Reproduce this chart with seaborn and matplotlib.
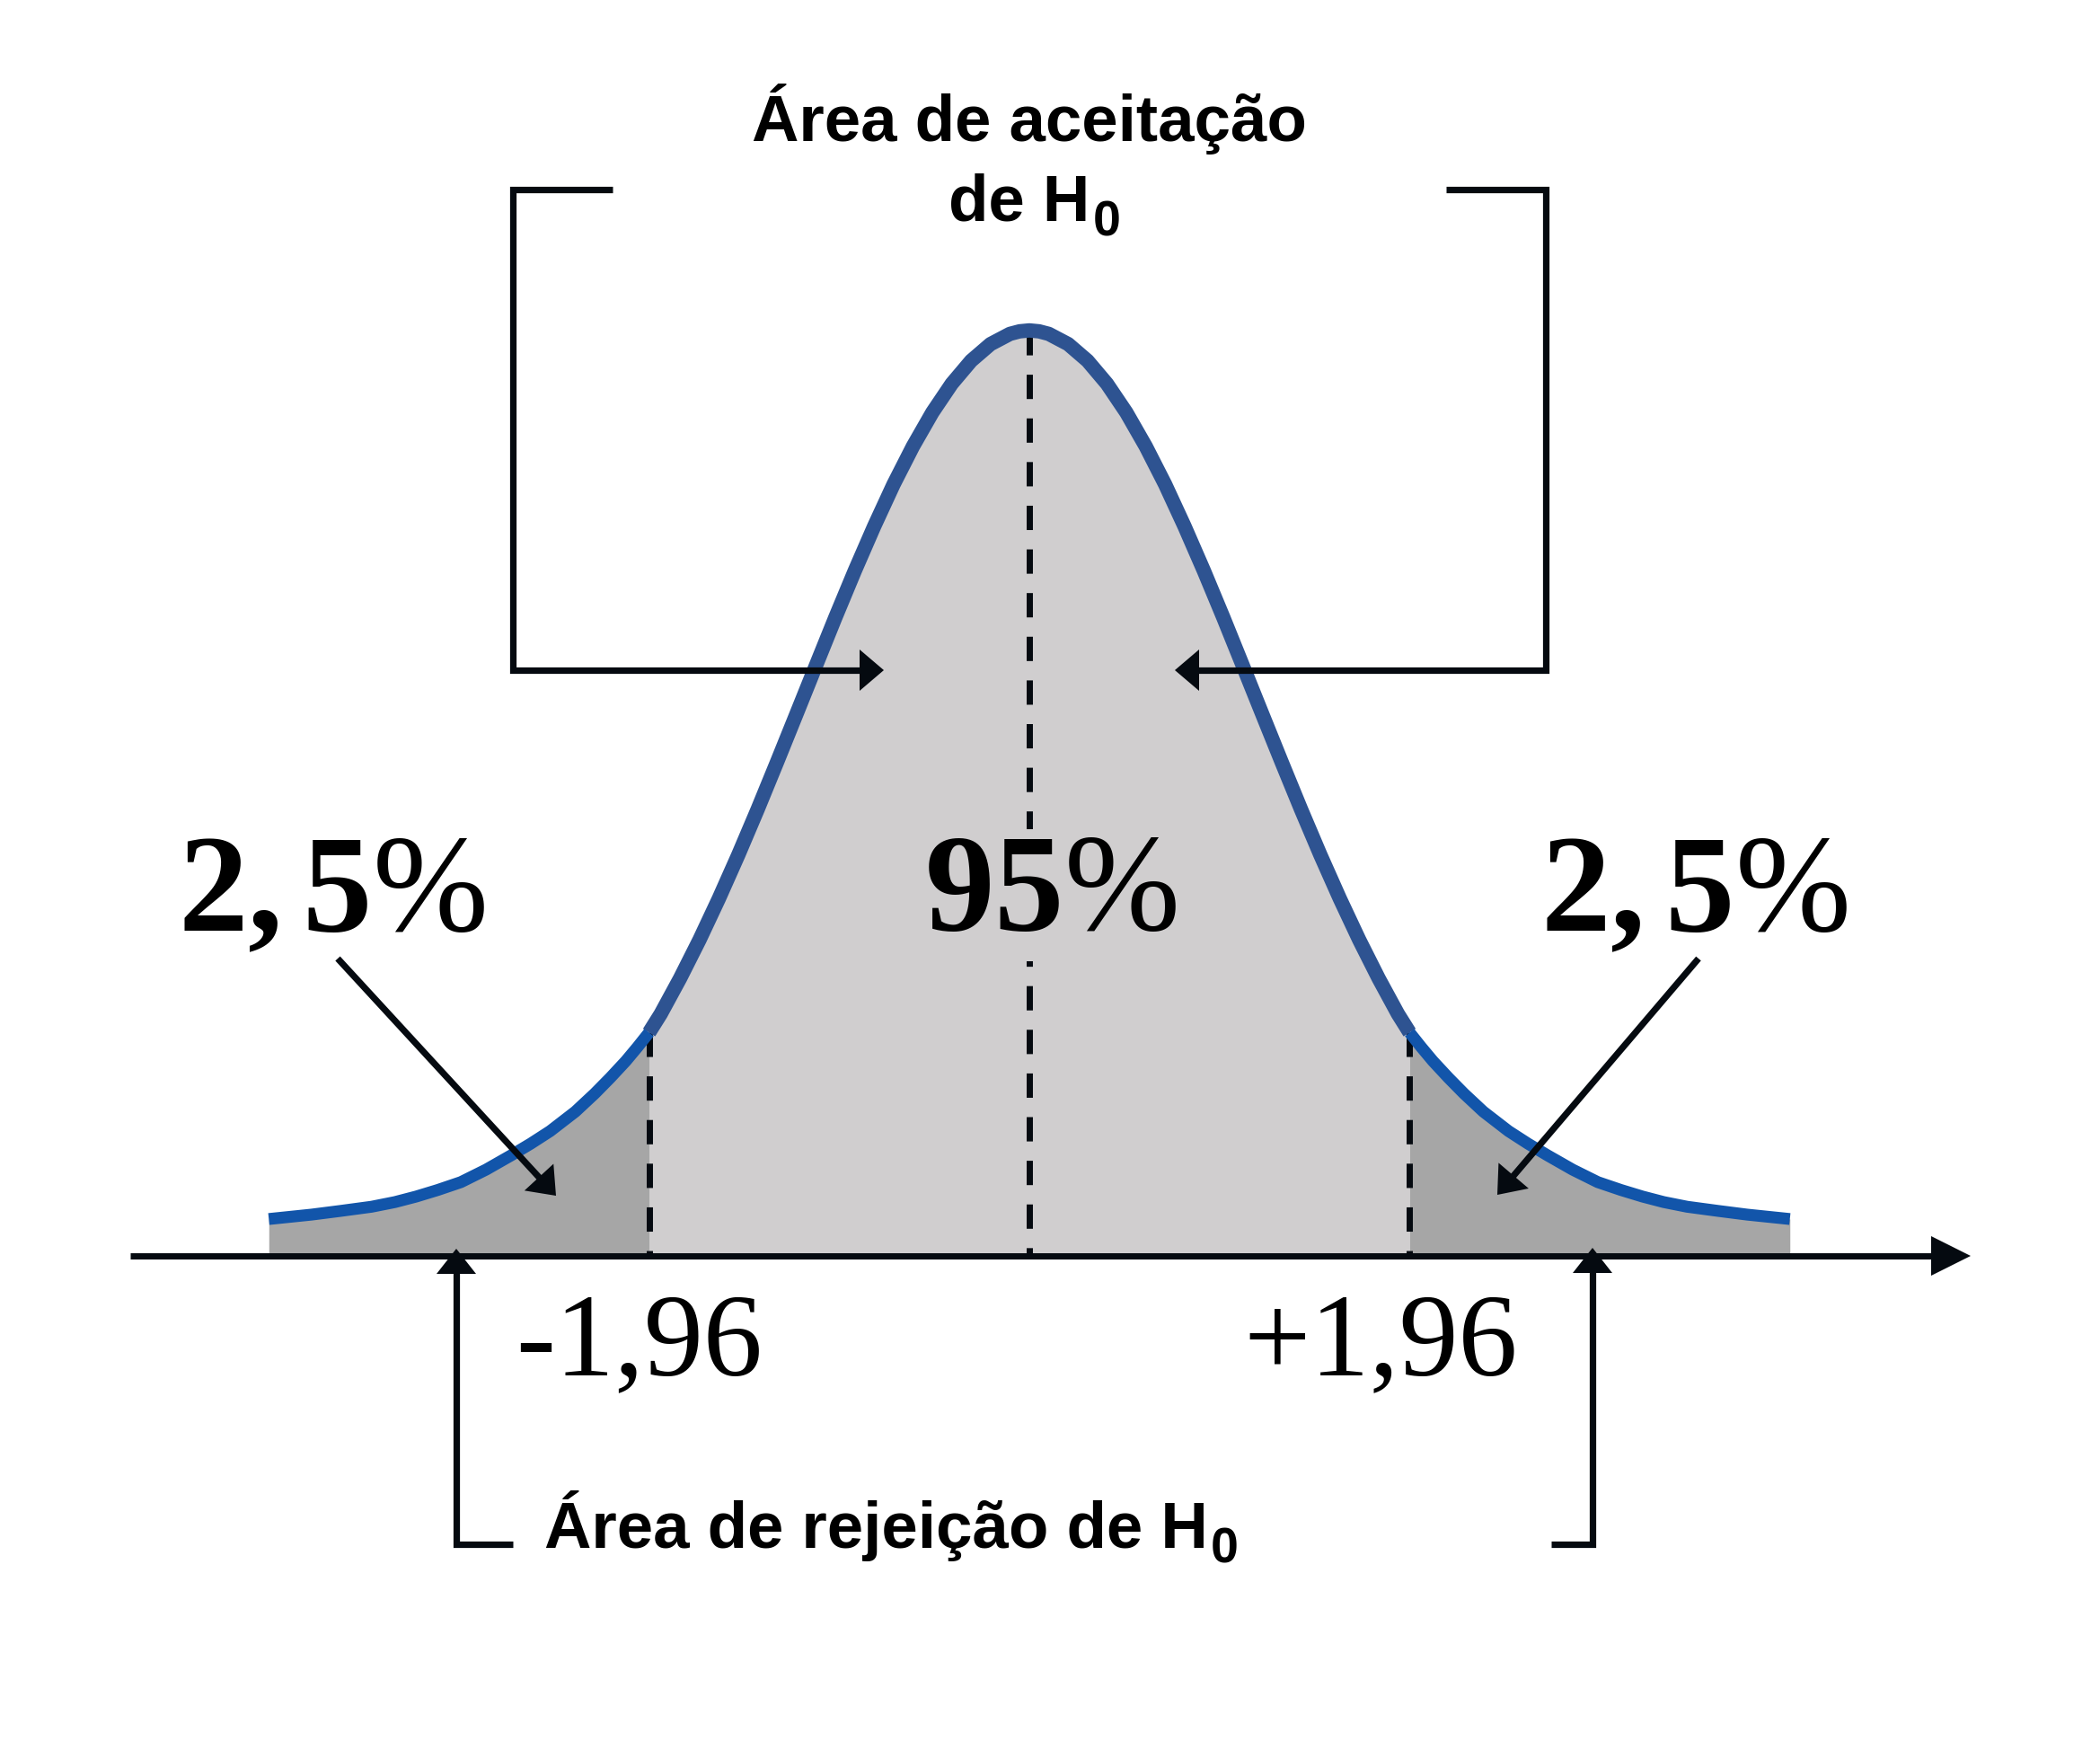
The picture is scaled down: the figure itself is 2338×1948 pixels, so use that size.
import numpy as np
import matplotlib
matplotlib.use("Agg")
import matplotlib.pyplot as plt
import seaborn as sns

# ---------------- data ----------------
# left tail of the curve (z units, relative density)
tail_z = [-3.92, -3.70, -3.55, -3.39, -3.27, -3.16, -3.05, -2.93, -2.80, -2.67,
          -2.57, -2.47, -2.34, -2.24, -2.16, -2.08, -2.02, -1.96]
tail_density = [0.0159, 0.0178, 0.0194, 0.0212, 0.0232, 0.0256, 0.0284, 0.0318,
                0.0372, 0.0434, 0.0484, 0.0538, 0.0622, 0.0700, 0.0768, 0.0840,
                0.0900, 0.0963]
# left half of the central part of the curve
core_z = [-1.96, -1.9, -1.8, -1.7, -1.6, -1.5, -1.4, -1.3, -1.2, -1.1, -1.0,
          -0.9, -0.8, -0.7, -0.6, -0.5, -0.4, -0.3, -0.2, -0.1, -0.05, 0.0]
core_density = [0.0963, 0.1043, 0.1197, 0.1363, 0.1541, 0.1729, 0.1926, 0.2130,
                0.2337, 0.2545, 0.2752, 0.2953, 0.3145, 0.3326, 0.3490, 0.3636,
                0.3760, 0.3859, 0.3931, 0.3975, 0.3986, 0.3990]
critical_values = [-1.96, 1.96]
critical_labels = ["-1,96", "+1,96"]
tail_share_label = r"$\mathbf{2,5}$%"
center_share_label = r"$\mathbf{95}$%"
accept_label = ["Área de aceitação", "de H"]
reject_label = "Área de rejeição de H"
sub_label = "0"

# ---------------- style ----------------
sns.set_theme(style="white")
plt.rcParams["font.family"] = ["Liberation Sans", "DejaVu Sans"]
plt.rcParams["mathtext.fontset"] = "custom"
plt.rcParams["mathtext.rm"] = "Liberation Serif"
plt.rcParams["mathtext.it"] = "Liberation Serif:italic"
plt.rcParams["mathtext.bf"] = "Liberation Serif:bold"
plt.rcParams["mathtext.sf"] = "Liberation Sans:bold"

W, H = 2338, 1949
fig = plt.figure(figsize=(W / 100, H / 100), dpi=100)
fig.patch.set_facecolor("white")

# main axes: z units horizontally, density vertically
ax = fig.add_axes([0, 0, 1, 1])
CX, UX = 1146.0, 216.0      # pixel of z=0, pixels per z unit
AY, UY = 1399.0, 2582.0     # pixel row of density 0, pixels per density unit
ax.set_xlim(-CX / UX, (W - CX) / UX)
ax.set_ylim(-(H - AY) / UY, AY / UY)
ax.set_axis_off()

tz = np.array(tail_z)
td = np.array(tail_density)
cz = np.array(core_z)
cd = np.array(core_density)
core_full_z = np.concatenate([cz, -cz[-2::-1]])
core_full_d = np.concatenate([cd, cd[-2::-1]])
right_tz = -tz[::-1]
right_td = td[::-1]

LIGHT = "#D0CECF"
DARK = "#A6A6A6"
CORE_BLUE = "#2E5391"
TAIL_BLUE = "#1255AA"
INK = "#050A10"

ax.fill_between(core_full_z, 0, core_full_d, color=LIGHT, lw=0, zorder=1)
ax.fill_between(tz, 0, td, color=DARK, lw=0, zorder=1)
ax.fill_between(right_tz, 0, right_td, color=DARK, lw=0, zorder=1)

# dashed verticals
dash = (0, (3.9, 3.1))
for zc in critical_values:
    h = np.interp(zc, core_full_z, core_full_d)
    ax.plot([zc, zc], [h, 0], color=INK, lw=5, ls=dash, zorder=2)
ax.plot([0, 0], [max(core_density), 0], color=INK, lw=5, ls=dash, zorder=2)

# curve
n_before = len(ax.lines)
sns.lineplot(x=core_full_z, y=core_full_d, sort=False, estimator=None, ax=ax,
             color=CORE_BLUE, lw=11.5, zorder=4)
sns.lineplot(x=tz, y=td, sort=False, estimator=None, ax=ax,
             color=TAIL_BLUE, lw=9.5, zorder=4)
sns.lineplot(x=right_tz, y=right_td, sort=False, estimator=None, ax=ax,
             color=TAIL_BLUE, lw=9.5, zorder=4)
for l in ax.lines[n_before:]:
    l.set_solid_capstyle("butt")
    l.set_solid_joinstyle("round")

# ---------------- overlay in pixel coordinates ----------------
ov = fig.add_axes([0, 0, 1, 1], zorder=5)
ov.set_xlim(0, W)
ov.set_ylim(H, 0)
ov.set_axis_off()
ov.patch.set_alpha(0)


def arrow(pts, hl, hw, lw=5.2):
    pts = np.array(pts, dtype=float)
    tip = pts[-1]
    prev = pts[-2]
    d = tip - prev
    u = d / np.hypot(*d)
    n = np.array([-u[1], u[0]])
    base = tip - u * hl
    line = np.vstack([pts[:-1], base + u * 2])
    ov.plot(line[:, 0], line[:, 1], color=INK, lw=lw,
            solid_joinstyle="miter", solid_capstyle="butt", zorder=6)
    tri = np.array([tip, base + n * hw, base - n * hw])
    ov.fill(tri[:, 0], tri[:, 1], color=INK, lw=0, zorder=6)


# horizontal axis
arrow([(145, 1399), (2194, 1399)], 44, 22, lw=5.0)
# acceptance brackets
arrow([(682, 212), (571, 212), (571, 747), (984, 747)], 27, 23)
arrow([(1610, 212), (1721, 212), (1721, 747), (1308, 747)], 27, 23)
# rejection brackets
arrow([(571, 1720), (508, 1720), (508, 1391)], 28, 22)
arrow([(1727, 1720), (1773, 1720), (1773, 1390)], 28, 22)
# arrows from the percentages
arrow([(376, 1068), (619, 1332)], 28, 22)
arrow([(1891, 1068), (1667, 1331)], 28, 22)

# ---------------- texts ----------------
SANS_SIZE = 52.3
ov.text(1146, 157, accept_label[0], ha="center", va="baseline",
        fontsize=SANS_SIZE, fontweight="bold", color="black", zorder=7)
t_de = ov.text(1056, 245, accept_label[1], ha="left", va="baseline",
               fontsize=SANS_SIZE, fontweight="bold", color="black", zorder=7)
t_rej = ov.text(606, 1723, reject_label, ha="left", va="baseline",
                fontsize=SANS_SIZE, fontweight="bold", color="black", zorder=7)

serif = ["Liberation Serif", "DejaVu Serif"]
ov.text(198, 1036, tail_share_label, ha="left", va="baseline",
        fontsize=111.6, family=serif, color="black", zorder=7)
ov.text(1715, 1036, tail_share_label, ha="left", va="baseline",
        fontsize=111.6, family=serif, color="black", zorder=7)
ov.text(1169, 1035, center_share_label, ha="center", va="baseline",
        fontsize=111.6, family=serif, color="black", zorder=7,
        bbox=dict(facecolor=LIGHT, edgecolor="none", pad=2))

crit_px = [574, 1384]
for xpix, lab in zip(crit_px, critical_labels):
    ov.text(xpix, 1530, lab, ha="left", va="baseline",
            fontsize=95, family=serif, color="black", zorder=7)

# subscripts placed right after the "H"
fig.canvas.draw()
renderer = fig.canvas.get_renderer()
for t, base_y in [(t_de, 245), (t_rej, 1723)]:
    bb = t.get_window_extent(renderer)
    x_right = bb.x1  # display pixels (same as figure pixels at dpi 100)
    ov.text(x_right + 3, base_y + 17, sub_label, ha="left", va="baseline",
            fontsize=40, fontweight="bold", color="black", zorder=7)

fig.savefig("out.png", dpi=100, facecolor="white")
